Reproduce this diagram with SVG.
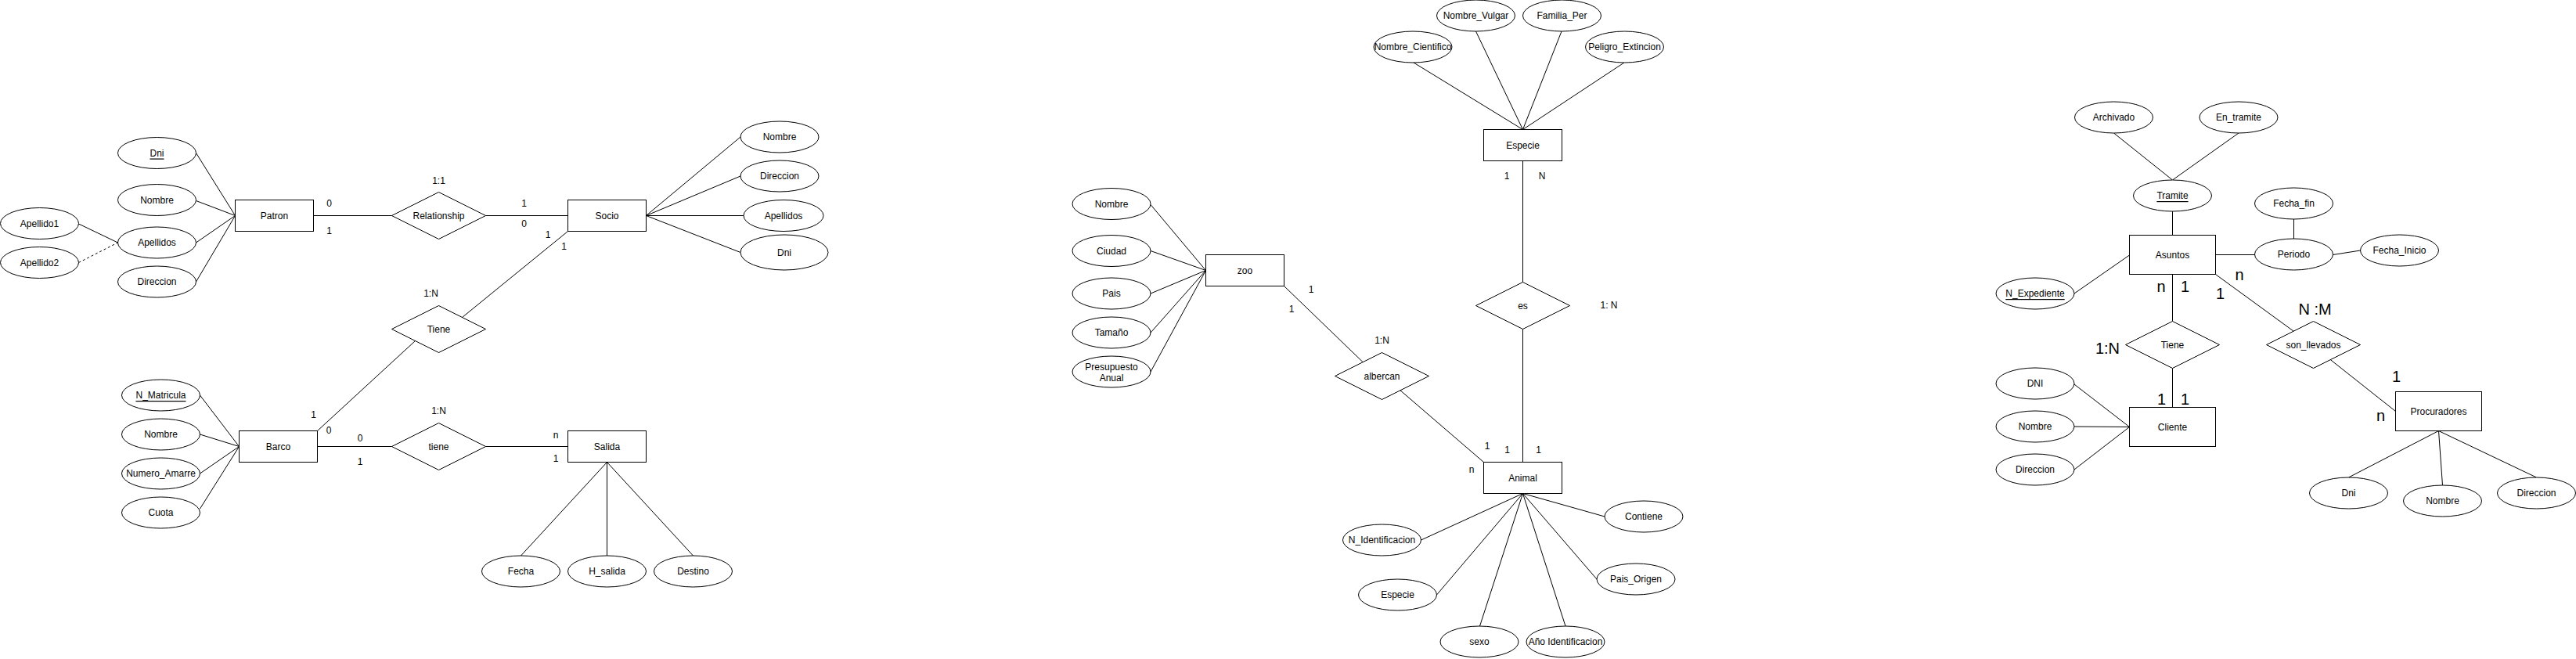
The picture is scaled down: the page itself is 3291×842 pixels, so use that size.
<svg xmlns="http://www.w3.org/2000/svg" width="3291" height="842" viewBox="0 0 3291 842">
<style>
.e{fill:#fff;stroke:#000;stroke-width:1}
.r{fill:#fff;stroke:#000;stroke-width:1}
.d{fill:#fff;stroke:#000;stroke-width:1}
.c{fill:none;stroke:#000;stroke-width:1}
.dash{stroke-dasharray:3 3}
text{font-family:"Liberation Sans",Arial,Helvetica,sans-serif;font-size:12px;fill:#000;text-anchor:middle;dominant-baseline:central}
.big{font-size:20px}
.u{text-decoration:underline}
</style>
<rect x="0" y="0" width="3291" height="842" fill="#fff"/>

<g id="connectors">
<!-- left diagram -->
<path class="c" d="M250.5,195.5 L300.5,275.5"/>
<path class="c" d="M250.5,256.5 L300.5,275.5"/>
<path class="c" d="M250.5,310 L300.5,275.5"/>
<path class="c" d="M250.5,360 L300.5,275.5"/>
<path class="c" d="M100.5,286 L150.5,310"/>
<path class="c dash" d="M100.5,335.5 L150.5,310"/>
<path class="c" d="M400.5,275.5 L500.5,275.5"/>
<path class="c" d="M620.5,275.5 L725.5,275.5"/>
<path class="c" d="M825.5,275.5 L946,175"/>
<path class="c" d="M825.5,275.5 L946,225"/>
<path class="c" d="M825.5,275.5 L950,275.5"/>
<path class="c" d="M825.5,275.5 L946,322.5"/>
<path class="c" d="M725.5,295.5 L590.5,405.5"/>
<path class="c" d="M405.5,550.5 L530.5,435.5"/>
<path class="c" d="M405.5,570.5 L500.5,570.5"/>
<path class="c" d="M620.5,570.5 L725.5,570.5"/>
<path class="c" d="M775.5,590.5 L665.5,710"/>
<path class="c" d="M775.5,590.5 L775.5,710"/>
<path class="c" d="M775.5,590.5 L885.5,710"/>
<path class="c" d="M255.5,505 L305.5,570.5"/>
<path class="c" d="M255.5,555 L305.5,570.5"/>
<path class="c" d="M255.5,605 L305.5,570.5"/>
<path class="c" d="M255.5,650 L305.5,570.5"/>
<!-- middle diagram -->
<path class="c" d="M1470,261.5 L1540.5,345.5"/>
<path class="c" d="M1470,320.5 L1540.5,345.5"/>
<path class="c" d="M1470,375 L1540.5,345.5"/>
<path class="c" d="M1470,425 L1540.5,345.5"/>
<path class="c" d="M1470,475 L1540.5,345.5"/>
<path class="c" d="M1640.5,365.5 L1741,462.5"/>
<path class="c" d="M1789,498.8 L1895.5,590.5"/>
<path class="c" d="M1945.5,205.5 L1945.5,360.5"/>
<path class="c" d="M1945.5,420.5 L1945.5,590.5"/>
<path class="c" d="M1806,80 L1945.5,165.5"/>
<path class="c" d="M1885.5,40 L1945.5,165.5"/>
<path class="c" d="M1995,40 L1945.5,165.5"/>
<path class="c" d="M2075,80 L1945.5,165.5"/>
<path class="c" d="M1945.5,630.5 L2050,660"/>
<path class="c" d="M1945.5,630.5 L1815.5,690"/>
<path class="c" d="M1945.5,630.5 L1835.5,760"/>
<path class="c" d="M1945.5,630.5 L1890.5,800"/>
<path class="c" d="M1945.5,630.5 L2000,800"/>
<path class="c" d="M1945.5,630.5 L2040,740"/>
<!-- right diagram -->
<path class="c" d="M2700.5,170 L2775.5,230"/>
<path class="c" d="M2860,170 L2775.5,230"/>
<path class="c" d="M2775.5,270 L2775.5,300.5"/>
<path class="c" d="M2930.5,280 L2930.5,305"/>
<path class="c" d="M2830.5,325.5 L2880.5,325.5"/>
<path class="c" d="M2980.5,325.5 L3015.5,320"/>
<path class="c" d="M2650,375 L2720.5,326"/>
<path class="c" d="M2775.5,350.5 L2775.5,410.5"/>
<path class="c" d="M2775.5,470.5 L2775.5,520.5"/>
<path class="c" d="M2650,491 L2720.5,545.5"/>
<path class="c" d="M2650,545 L2720.5,545.5"/>
<path class="c" d="M2650,600 L2720.5,545.5"/>
<path class="c" d="M2830.5,350.5 L2930,423"/>
<path class="c" d="M2977.3,459.6 L3060.5,525.5"/>
<path class="c" d="M3115.5,550.5 L3000.5,610"/>
<path class="c" d="M3115.5,550.5 L3120.5,620"/>
<path class="c" d="M3115.5,550.5 L3240.5,610"/>
</g>

<g id="connector-labels">
<text x="420.5" y="259.5">0</text>
<text x="420.5" y="295">1</text>
<text x="560.5" y="231">1:1</text>
<text x="669.5" y="259.5">1</text>
<text x="669.5" y="285.5">0</text>
<text x="700" y="300">1</text>
<text x="720.5" y="315">1</text>
<text x="550.5" y="375">1:N</text>
<text x="400.5" y="530">1</text>
<text x="420" y="550">0</text>
<text x="560.5" y="524.5">1:N</text>
<text x="460" y="560">0</text>
<text x="460" y="590">1</text>
<text x="710" y="555.5">n</text>
<text x="710" y="585.5">1</text>
<text x="1925" y="225">1</text>
<text x="1970" y="225">N</text>
<text x="2055.5" y="390">1: N</text>
<text x="1675" y="370">1</text>
<text x="1650" y="395">1</text>
<text x="1765.5" y="434.5">1:N</text>
<text x="1900" y="570">1</text>
<text x="1925.5" y="575">1</text>
<text x="1965.5" y="575">1</text>
<text x="1880" y="600">n</text>
<text class="big" x="2761" y="366">n</text>
<text class="big" x="2791.5" y="365.5">1</text>
<text class="big" x="2861" y="350.5">n</text>
<text class="big" x="2836.5" y="375">1</text>
<text class="big" x="2957.5" y="395">N :M</text>
<text class="big" x="2692.5" y="445">1:N</text>
<text class="big" x="2761.5" y="510">1</text>
<text class="big" x="2791.5" y="510">1</text>
<text class="big" x="3061.5" y="481">1</text>
<text class="big" x="3041.5" y="531">n</text>
</g>

<!-- LEFT DIAGRAM -->
<g id="patron"><rect class="r" x="300.5" y="255.5" width="100" height="40"/><text x="350.5" y="275.5">Patron</text></g>
<g id="patron-dni"><ellipse class="e" cx="200.5" cy="195.5" rx="50" ry="20"/><text class="u" x="200.5" y="195.5">Dni</text></g>
<g id="patron-nombre"><ellipse class="e" cx="200.5" cy="255.5" rx="50" ry="20"/><text x="200.5" y="255.5">Nombre</text></g>
<g id="patron-apellidos"><ellipse class="e" cx="200.5" cy="310" rx="50" ry="20"/><text x="200.5" y="310">Apellidos</text></g>
<g id="patron-direccion"><ellipse class="e" cx="200.5" cy="360" rx="50" ry="20"/><text x="200.5" y="360">Direccion</text></g>
<g id="apellido1"><ellipse class="e" cx="50.5" cy="285.5" rx="50" ry="20"/><text x="50.5" y="285.5">Apellido1</text></g>
<g id="apellido2"><ellipse class="e" cx="50.5" cy="335.5" rx="50" ry="20"/><text x="50.5" y="335.5">Apellido2</text></g>
<g id="relationship"><polygon class="d" points="500.5,275.5 560.5,245.5 620.5,275.5 560.5,305.5"/><text x="560.5" y="275.5">Relationship</text></g>
<g id="socio"><rect class="r" x="725.5" y="255.5" width="100" height="40"/><text x="775.5" y="275.5">Socio</text></g>
<g id="socio-nombre"><ellipse class="e" cx="996" cy="175" rx="50" ry="20"/><text x="996" y="175">Nombre</text></g>
<g id="socio-direccion"><ellipse class="e" cx="996" cy="225" rx="50" ry="20"/><text x="996" y="225">Direccion</text></g>
<g id="socio-apellidos"><ellipse class="e" cx="1001" cy="275.5" rx="51" ry="20"/><text x="1001" y="275.5">Apellidos</text></g>
<g id="socio-dni"><ellipse class="e" cx="1002" cy="322.5" rx="56" ry="22.5"/><text x="1002" y="322.5">Dni</text></g>
<g id="tiene-socio"><polygon class="d" points="500.5,420.5 560.5,390.5 620.5,420.5 560.5,450.5"/><text x="560.5" y="420.5">Tiene</text></g>
<g id="barco"><rect class="r" x="305.5" y="550.5" width="100" height="40"/><text x="355.5" y="570.5">Barco</text></g>
<g id="barco-nmatricula"><ellipse class="e" cx="205.5" cy="505" rx="50" ry="20"/><text class="u" x="205.5" y="505">N_Matricula</text></g>
<g id="barco-nombre"><ellipse class="e" cx="205.5" cy="555" rx="50" ry="20"/><text x="205.5" y="555">Nombre</text></g>
<g id="barco-numero"><ellipse class="e" cx="205.5" cy="605" rx="50" ry="20"/><text x="205.5" y="605">Numero_Amarre</text></g>
<g id="barco-cuota"><ellipse class="e" cx="205.5" cy="655" rx="50" ry="20"/><text x="205.5" y="655">Cuota</text></g>
<g id="tiene-salida"><polygon class="d" points="500.5,570.5 560.5,540.5 620.5,570.5 560.5,600.5"/><text x="560.5" y="570.5">tiene</text></g>
<g id="salida"><rect class="r" x="725.5" y="550.5" width="100" height="40"/><text x="775.5" y="570.5">Salida</text></g>
<g id="salida-fecha"><ellipse class="e" cx="665.5" cy="730" rx="50" ry="20"/><text x="665.5" y="730">Fecha</text></g>
<g id="salida-hsalida"><ellipse class="e" cx="775.5" cy="730" rx="50" ry="20"/><text x="775.5" y="730">H_salida</text></g>
<g id="salida-destino"><ellipse class="e" cx="885.5" cy="730" rx="50" ry="20"/><text x="885.5" y="730">Destino</text></g>

<!-- MIDDLE DIAGRAM -->
<g id="zoo"><rect class="r" x="1540.5" y="325.5" width="100" height="40"/><text x="1590.5" y="345.5">zoo</text></g>
<g id="zoo-nombre"><ellipse class="e" cx="1420" cy="260.5" rx="50" ry="20"/><text x="1420" y="260.5">Nombre</text></g>
<g id="zoo-ciudad"><ellipse class="e" cx="1420" cy="320.5" rx="50" ry="20"/><text x="1420" y="320.5">Ciudad</text></g>
<g id="zoo-pais"><ellipse class="e" cx="1420" cy="375" rx="50" ry="20"/><text x="1420" y="375">Pais</text></g>
<g id="zoo-tamano"><ellipse class="e" cx="1420" cy="425" rx="50" ry="20"/><text x="1420" y="425">Tamaño</text></g>
<g id="zoo-presupuesto"><ellipse class="e" cx="1420" cy="475" rx="50" ry="20"/><text x="1420" y="469">Presupuesto</text><text x="1420" y="483">Anual</text></g>
<g id="albercan"><polygon class="d" points="1705.5,480.5 1765.5,450.5 1825.5,480.5 1765.5,510.5"/><text x="1765.5" y="480.5">albercan</text></g>
<g id="especie"><rect class="r" x="1895.5" y="165.5" width="100" height="40"/><text x="1945.5" y="185.5">Especie</text></g>
<g id="especie-ncientifico"><ellipse class="e" cx="1805" cy="60" rx="50" ry="20"/><text x="1805" y="60">Nombre_Cientifico</text></g>
<g id="especie-nvulgar"><ellipse class="e" cx="1885.5" cy="20" rx="50" ry="20"/><text x="1885.5" y="20">Nombre_Vulgar</text></g>
<g id="especie-familia"><ellipse class="e" cx="1995.5" cy="20" rx="50" ry="20"/><text x="1995.5" y="20">Familia_Per</text></g>
<g id="especie-peligro"><ellipse class="e" cx="2075.5" cy="60" rx="50" ry="20"/><text x="2075.5" y="60">Peligro_Extincion</text></g>
<g id="es"><polygon class="d" points="1885.5,390.5 1945.5,360.5 2005.5,390.5 1945.5,420.5"/><text x="1945.5" y="390.5">es</text></g>
<g id="animal"><rect class="r" x="1895.5" y="590.5" width="100" height="40"/><text x="1945.5" y="610.5">Animal</text></g>
<g id="animal-nident"><ellipse class="e" cx="1765.5" cy="690" rx="50" ry="20"/><text x="1765.5" y="690">N_Identificacion</text></g>
<g id="animal-especie"><ellipse class="e" cx="1785.5" cy="760" rx="50" ry="20"/><text x="1785.5" y="760">Especie</text></g>
<g id="animal-sexo"><ellipse class="e" cx="1890" cy="820" rx="50" ry="20"/><text x="1890" y="820">sexo</text></g>
<g id="animal-anio"><ellipse class="e" cx="2000" cy="820" rx="50" ry="20"/><text x="2000" y="820">Año Identificacion</text></g>
<g id="animal-pais"><ellipse class="e" cx="2090" cy="740" rx="50" ry="20"/><text x="2090" y="740">Pais_Origen</text></g>
<g id="animal-contiene"><ellipse class="e" cx="2100" cy="660" rx="50" ry="20"/><text x="2100" y="660">Contiene</text></g>

<!-- RIGHT DIAGRAM -->
<g id="asuntos"><rect class="r" x="2720.5" y="300.5" width="110" height="50"/><text x="2775.5" y="325.5">Asuntos</text></g>
<g id="tramite"><ellipse class="e" cx="2775.5" cy="250" rx="50" ry="20"/><text class="u" x="2775.5" y="250">Tramite</text></g>
<g id="archivado"><ellipse class="e" cx="2700.5" cy="150" rx="50" ry="20"/><text x="2700.5" y="150">Archivado</text></g>
<g id="en-tramite"><ellipse class="e" cx="2860" cy="150" rx="50" ry="20"/><text x="2860" y="150">En_tramite</text></g>
<g id="fecha-fin"><ellipse class="e" cx="2930.5" cy="260" rx="50" ry="20"/><text x="2930.5" y="260">Fecha_fin</text></g>
<g id="periodo"><ellipse class="e" cx="2930.5" cy="325" rx="50" ry="20"/><text x="2930.5" y="325">Periodo</text></g>
<g id="fecha-inicio"><ellipse class="e" cx="3065.5" cy="320" rx="50" ry="20"/><text x="3065.5" y="320">Fecha_Inicio</text></g>
<g id="n-expediente"><ellipse class="e" cx="2600" cy="375" rx="50" ry="20"/><text class="u" x="2600" y="375">N_Expediente</text></g>
<g id="tiene-cliente"><polygon class="d" points="2715.5,440.5 2775.5,410.5 2835.5,440.5 2775.5,470.5"/><text x="2775.5" y="440.5">Tiene</text></g>
<g id="cliente"><rect class="r" x="2720.5" y="520.5" width="110" height="50"/><text x="2775.5" y="545.5">Cliente</text></g>
<g id="cliente-dni"><ellipse class="e" cx="2600" cy="490" rx="50" ry="20"/><text x="2600" y="490">DNI</text></g>
<g id="cliente-nombre"><ellipse class="e" cx="2600" cy="545" rx="50" ry="20"/><text x="2600" y="545">Nombre</text></g>
<g id="cliente-direccion"><ellipse class="e" cx="2600" cy="600" rx="50" ry="20"/><text x="2600" y="600">Direccion</text></g>
<g id="son-llevados"><polygon class="d" points="2895.5,440.5 2955.5,410.5 3015.5,440.5 2955.5,470.5"/><text x="2955.5" y="440.5">son_llevados</text></g>
<g id="procuradores"><rect class="r" x="3060.5" y="500.5" width="110" height="50"/><text x="3115.5" y="525.5">Procuradores</text></g>
<g id="proc-dni"><ellipse class="e" cx="3000.5" cy="630" rx="50" ry="20"/><text x="3000.5" y="630">Dni</text></g>
<g id="proc-nombre"><ellipse class="e" cx="3120.5" cy="640" rx="50" ry="20"/><text x="3120.5" y="640">Nombre</text></g>
<g id="proc-direccion"><ellipse class="e" cx="3240.5" cy="630" rx="50" ry="20"/><text x="3240.5" y="630">Direccion</text></g>
</svg>
